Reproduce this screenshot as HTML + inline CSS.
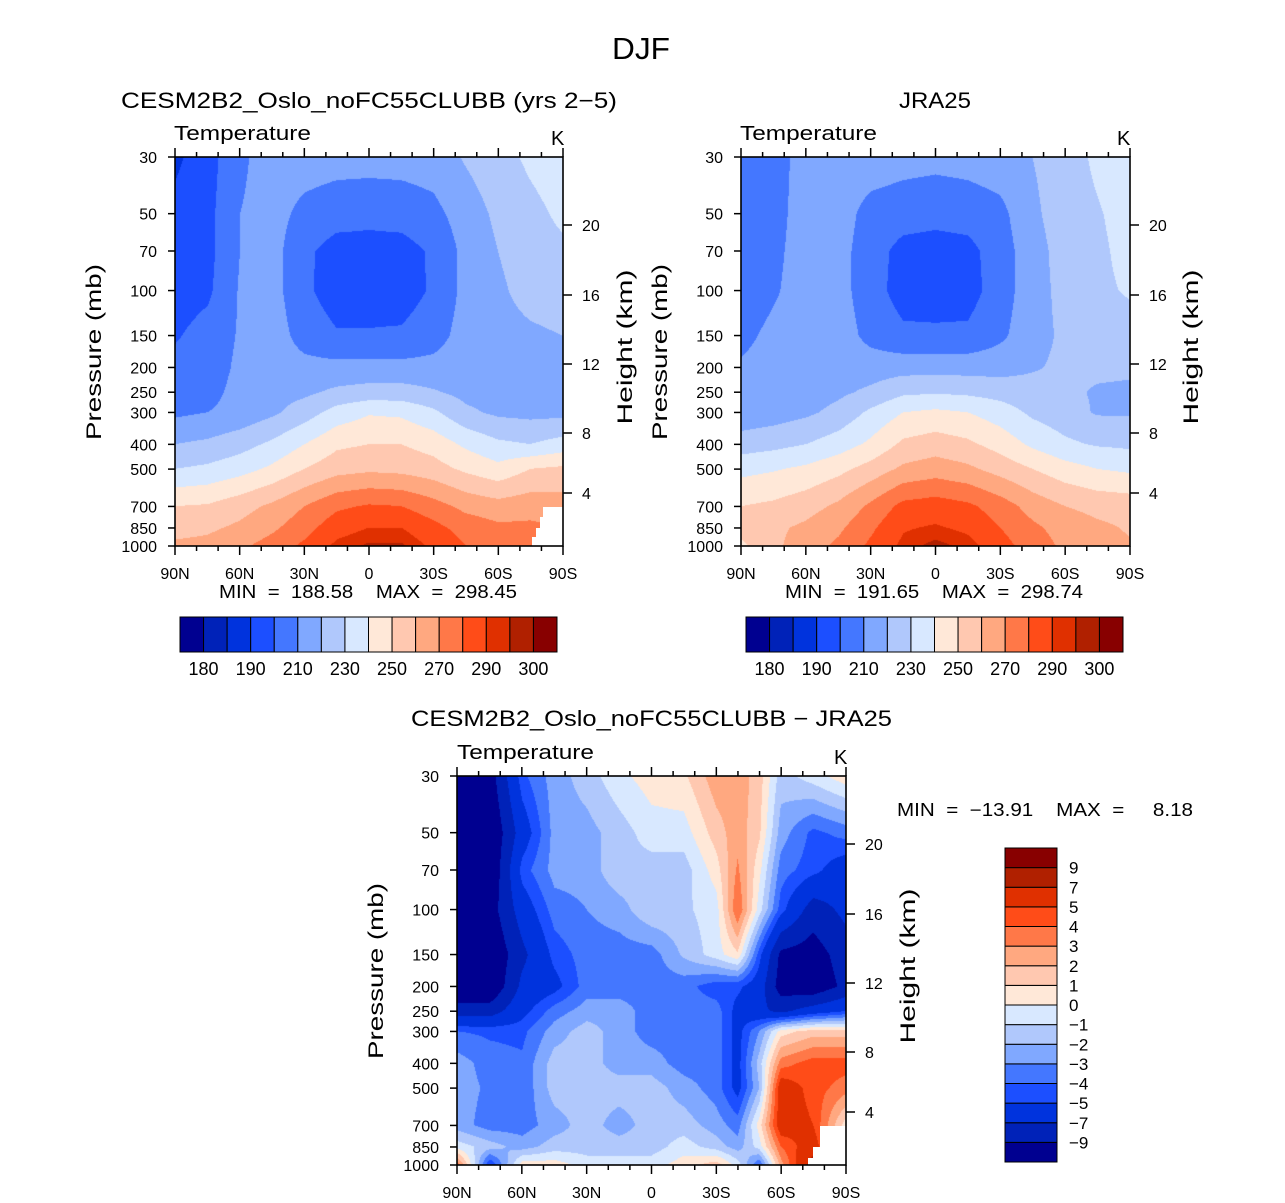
<!DOCTYPE html>
<html><head><meta charset="utf-8">
<style>
html,body{margin:0;padding:0;background:#fff;}
#root{position:relative;width:1285px;height:1203px;overflow:hidden;background:#fff;font-family:"Liberation Sans",sans-serif;}
canvas{position:absolute;}
svg{position:absolute;left:0;top:0;}
text{font-family:"Liberation Sans",sans-serif;fill:#000;white-space:pre;}
</style></head>
<body>
<div id="root">
<canvas id="c1" width="388" height="389" style="left:175px;top:157px"></canvas>
<canvas id="c2" width="389" height="389" style="left:741px;top:157px"></canvas>
<canvas id="c3" width="389" height="389" style="left:457px;top:776px"></canvas>
<svg id="ov" width="1285" height="1203">
<text x="612" y="59" font-size="31" textLength="58" lengthAdjust="spacingAndGlyphs">DJF</text>
<text x="121" y="108" font-size="22" textLength="496" lengthAdjust="spacingAndGlyphs">CESM2B2_Oslo_noFC55CLUBB (yrs 2−5)</text>
<text x="899" y="108" font-size="22" textLength="72" lengthAdjust="spacingAndGlyphs">JRA25</text>
<text x="174" y="140" font-size="20" textLength="137" lengthAdjust="spacingAndGlyphs">Temperature</text>
<text x="551" y="145" font-size="20">K</text>
<text x="740" y="140" font-size="20" textLength="137" lengthAdjust="spacingAndGlyphs">Temperature</text>
<text x="1117" y="145" font-size="20">K</text>
<text x="219" y="598" font-size="18" textLength="298" lengthAdjust="spacingAndGlyphs">MIN  =  188.58    MAX  =  298.45</text>
<text x="785" y="598" font-size="18" textLength="298" lengthAdjust="spacingAndGlyphs">MIN  =  191.65    MAX  =  298.74</text>
<text transform="translate(101,352) rotate(-90)" font-size="21" text-anchor="middle" textLength="176" lengthAdjust="spacingAndGlyphs">Pressure (mb)</text>
<text transform="translate(632,347) rotate(-90)" font-size="21" text-anchor="middle" textLength="155" lengthAdjust="spacingAndGlyphs">Height (km)</text>
<text transform="translate(667,352) rotate(-90)" font-size="21" text-anchor="middle" textLength="176" lengthAdjust="spacingAndGlyphs">Pressure (mb)</text>
<text transform="translate(1198,347) rotate(-90)" font-size="21" text-anchor="middle" textLength="155" lengthAdjust="spacingAndGlyphs">Height (km)</text>
<text x="411" y="726" font-size="22" textLength="481" lengthAdjust="spacingAndGlyphs">CESM2B2_Oslo_noFC55CLUBB − JRA25</text>
<text x="457" y="759" font-size="20" textLength="137" lengthAdjust="spacingAndGlyphs">Temperature</text>
<text x="834" y="764" font-size="20">K</text>
<text transform="translate(383,971) rotate(-90)" font-size="21" text-anchor="middle" textLength="176" lengthAdjust="spacingAndGlyphs">Pressure (mb)</text>
<text transform="translate(915,966) rotate(-90)" font-size="21" text-anchor="middle" textLength="155" lengthAdjust="spacingAndGlyphs">Height (km)</text>
<text x="897" y="816" font-size="18" textLength="296" lengthAdjust="spacingAndGlyphs">MIN  =  −13.91    MAX  =     8.18</text>
<g id="axes"></g>
</svg>
</div>
<script>
// ---- data ----
const pressureLevels = [30,50,70,100,150,200,250,300,400,500,700,850,1000];
const modelLats = [90,75,60,45,30,15,0,-15,-30,-45,-60,-75,-90];
const modelTemp = [
[188,196,208,215,215,214,214,214,215,221,226,232,236],
[193,197,210,214,207,204,203,204,207,215,222,227,232],
[194,197,210,214,202,196,196,196,201.5,213,220,226,228],
[195,198,211,214,202,195,195,195,201.5,213,218,224,226],
[199,204,211,215,206,201,201,201.5,206,214,216,218,220],
[203,205,212,215,213,213,213,213,213,215,216,216,216],
[205,207,213,216,218,222,224,224,221,217,216,216,216],
[208,210,213,218,225,234,239,238,232,222,218,217,217],
[220,222,226,232,240,248,250,250,246,238,232,230,234],
[230,232,236,242,250,256,258,257,254,248,243,250,252],
[250,251,256,262,270,278,281,280,274,267,264,266,265],
[256,258,262,268,276,286,290,290,283,276,272,272,270],
[262,263,268,274,282,292,296,296,288,280,276,276,272]];
const jraLats = [90,75,60,45,30,15,0,-15,-30,-45,-60,-75,-90];
const jraTemp = [
[205,206,214,216,216,214,213,214,216,220,225,232,236],
[204,207,214,215,206,204,203,204,207,218,225,229,234],
[204,208,214,214,204,197,196,197,205,216,224,228,233],
[205,209,214,214,204,196,195,196,205,216,223,228,231],
[208,212,214,215,207,202,202,202,208,216,222,224,226],
[211,213,214,215,215,216,216,216,216,219,222,222,222],
[212,213,215,218,222,228,229,228,226,224,222,219,218],
[213,215,218,223,232,240,242,240,235,228,224,219,219],
[225,227,230,235,242,252,255,252,246,238,232,229,228],
[237,239,242,247,254,262,265,262,256,250,244,240,238],
[250,252,256,262,272,283,285,282,275,266,260,257,256],
[254,258,262,268,278,289,291,288,280,272,266,262,259],
[248,258,265,272,282,292,297,293,284,275,268,264,261]];
const diffLats = [90,75,60,45,30,15,0,-15,-30,-40,-50,-60,-75,-90];
const diffTemp = [
[-11,-10,-4.3,-2.5,-1.5,-0.3,0.5,0.8,2.6,2.6,1.5,-1.5,-0.5,0.6],
[-11,-11,-6,-2.6,-2.4,-1.5,-0.5,-0.5,1.5,2.6,1.2,-2.5,-4.3,-3.6],
[-11,-11,-4.5,-2.6,-2.6,-1.2,-1.5,-1.5,0.5,3.2,0.3,-3.5,-4.6,-6],
[-11,-10,-6,-3.5,-3,-2.5,-1.1,-1.2,-0.5,4,-0.5,-4.5,-8,-6.5],
[-11,-11,-7.5,-4.6,-3.5,-3.5,-3.5,-1.8,-0.5,0.8,-4.5,-9.5,-10,-8],
[-11,-11,-6.5,-5.5,-3.5,-3.5,-3.5,-3.6,-4.6,-4.7,-6,-10,-10.5,-8.5],
[-8,-8,-5.5,-3.5,-2.5,-2.5,-3.5,-3.5,-3.5,-5.5,-6.5,-7.5,-6,-5],
[-4,-4.2,-4.3,-2.5,-1.5,-2.5,-3.5,-3.5,-3.5,-5.5,-3,0.5,1.5,1.5],
[-2.5,-3.5,-3.8,-1.5,-1.5,-2.5,-2.5,-3.5,-3.5,-5.5,-1.5,3.5,4.5,4.5],
[-2.5,-3.2,-3.8,-1.5,-1.5,-1.5,-1.5,-2.5,-3.5,-5.5,-2,6,4.5,3.5],
[-2.5,-3.5,-3.5,-2.5,-1.5,-2.5,-1.5,-1.5,-2.5,-3.5,0.5,6,5,0.5],
[-0.5,-1.5,-2.5,-1.5,-1.5,-1.5,-1.5,-0.5,-1.5,-2.5,-0.5,4,6,0.5],
[3.5,-5,0.5,0.5,-0.5,-0.5,-0.5,0.5,1.5,-0.5,-4,2.5,8,0.5]];
const tempLevels = [180,185,190,200,210,220,230,240,250,260,270,280,290,295,300];
const diffLevels = [-9,-7,-5,-4,-3,-2,-1,0,1,2,3,4,5,7,9];
const tempTickLabels = ["180","190","210","230","250","270","290","300"];
const diffTickLabels = ["9","7","5","4","3","2","1","0","−1","−2","−3","−4","−5","−7","−9"];
const latTickLabels = ["90N","60N","30N","0","30S","60S","90S"];
const kmTicks = [4,8,12,16,20];
const palette = ['#000090','#0022b8','#0033dd','#1c4fff','#4477ff','#80a8ff','#b0c8fc','#d8e8ff','#ffe8d8','#ffc8b0','#ffa880','#ff7848','#ff4c18','#e03000','#b02000','#880000'];

// ---- helpers ----
const NS = 'http://www.w3.org/2000/svg';
const LNP = Math.log(1000/30);
function hex(c){return [parseInt(c.slice(1,3),16),parseInt(c.slice(3,5),16),parseInt(c.slice(5,7),16)];}
const rgb = palette.map(hex);
function drawField(id, lats, grid, levels){
  const cv=document.getElementById(id), ctx=cv.getContext('2d');
  const W=cv.width,H=cv.height;
  const xs=lats.map(l=>(90-l)/180*(W-1));
  const ys=pressureLevels.map(p=>(H-1)-(H-1)*Math.log(1000/p)/LNP);
  const img=ctx.createImageData(W,H);
  for(let py=0;py<H;py++){
    let j=0; while(j<ys.length-2 && py>ys[j+1]) j++;
    const ty=Math.min(1,Math.max(0,(py-ys[j])/(ys[j+1]-ys[j])));
    for(let px=0;px<W;px++){
      let i=0; while(i<xs.length-2 && px>xs[i+1]) i++;
      const tx=Math.min(1,Math.max(0,(px-xs[i])/(xs[i+1]-xs[i])));
      const v=(grid[j][i]*(1-tx)+grid[j][i+1]*tx)*(1-ty)+(grid[j+1][i]*(1-tx)+grid[j+1][i+1]*tx)*ty;
      let k=0; while(k<levels.length && v>=levels[k]) k++;
      const c=rgb[k], o=(py*W+px)*4;
      img.data[o]=c[0];img.data[o+1]=c[1];img.data[o+2]=c[2];img.data[o+3]=255;
    }
  }
  ctx.putImageData(img,0,0);
}
drawField('c1',modelLats,modelTemp,tempLevels);
drawField('c2',jraLats,jraTemp,tempLevels);
drawField('c3',diffLats,diffTemp,diffLevels);

const G=document.getElementById('axes');
function line(x1,y1,x2,y2,w){const l=document.createElementNS(NS,'line');l.setAttribute('x1',x1);l.setAttribute('y1',y1);l.setAttribute('x2',x2);l.setAttribute('y2',y2);l.setAttribute('stroke','#000');l.setAttribute('stroke-width',w||1.5);G.appendChild(l);return l;}
function txt(x,y,s,anchor,size){const t=document.createElementNS(NS,'text');t.setAttribute('x',x);t.setAttribute('y',y);t.setAttribute('font-size',size||16);t.setAttribute('text-anchor',anchor||'start');t.textContent=s;G.appendChild(t);return t;}

function axes(prefix,x0,y0,w,h,kmOffsets,mask){
  if(mask){const m=document.createElementNS(NS,'polygon');m.setAttribute('points',mask);m.setAttribute('fill','#fff');
    
    
    G.appendChild(m);}
  const r=document.createElementNS(NS,'rect');r.setAttribute('x',x0);r.setAttribute('y',y0);r.setAttribute('width',w);r.setAttribute('height',h);r.setAttribute('fill','none');r.setAttribute('stroke','#000');r.setAttribute('stroke-width',1.6);
  
  
  G.appendChild(r);
  pressureLevels.forEach(p=>{
    const y=y0+h-h*Math.log(1000/p)/LNP;
    line(x0-7,y,x0,y);
    const t=txt(x0-18,y+6,String(p),'end');
    
    
  });
  for(let lat=90;lat>=-90;lat-=10){
    const x=x0+(90-lat)/180*w, major=(lat%30===0), L=major?9:5;
    line(x,y0-L,x,y0); line(x,y0+h,x,y0+h+L);
  }
  latTickLabels.forEach((s,k)=>{
    const t=txt(x0+k*w/6,y0+h+33,s,'middle');
    
    
  });
  kmTicks.forEach((km,k)=>{
    const y=y0+kmOffsets[k];
    line(x0+w,y,x0+w+9,y);
    const t=txt(x0+w+19,y+6,String(km),'start');
    
    
  });
}
const kmOff=[336,276,207,138,68];
axes('model',175,157,388,389,kmOff,'543,507 563,507 563,546 532,546 532,537 536,537 536,528 540,528 540,517 543,517');
axes('jra',741,157,389,389,kmOff,null);
axes('diff',457,776,389,389,kmOff,'820,1126 846,1126 846,1165 808,1165 808,1158 813,1158 813,1147 820,1147');

function hbar(prefix,x0,y0,w,h){
  const bw=w/palette.length;
  palette.forEach((c,k)=>{
    const r=document.createElementNS(NS,'rect');r.setAttribute('x',x0+k*bw);r.setAttribute('y',y0);r.setAttribute('width',bw);r.setAttribute('height',h);r.setAttribute('fill',c);r.setAttribute('stroke','#000');r.setAttribute('stroke-width',1);
    
    
    G.appendChild(r);
  });
  tempTickLabels.forEach((s,k)=>{
    const t=txt(x0+(2*k+1)*bw,y0+h+23,s,'middle',18);
    
    
  });
}
hbar('model',180,617,377,35);
hbar('jra',746,617,377,35);

(function vbar(){
  const x0=1005,y0=848,w=52,h=314,bh=h/palette.length;
  palette.forEach((c,k)=>{
    const r=document.createElementNS(NS,'rect');r.setAttribute('x',x0);r.setAttribute('y',y0+(palette.length-1-k)*bh);r.setAttribute('width',w);r.setAttribute('height',bh);r.setAttribute('fill',c);r.setAttribute('stroke','#000');r.setAttribute('stroke-width',1);
    
    
    G.appendChild(r);
  });
  diffTickLabels.forEach((s,k)=>{
    const t=txt(x0+w+12,y0+(k+1)*bh+6,s,'start',17);
    
    
  });
})();
</script>
</body></html>
